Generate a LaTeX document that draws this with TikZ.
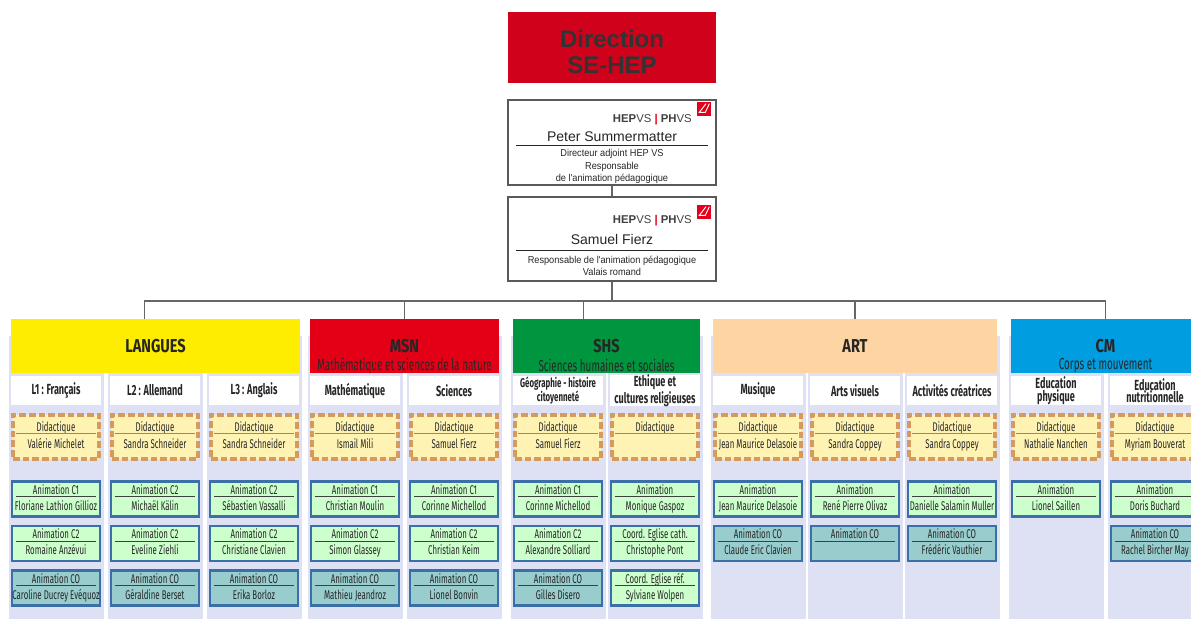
\documentclass[tikz,border=0pt]{standalone}
\usepackage{fontspec}
\setmainfont{Liberation Sans}
\newfontfamily\condfont[FakeStretch=0.62]{Fira Sans}
\newfontfamily\titrefont[FakeStretch=0.78]{Fira Sans}
\newfontfamily\rolefont[FakeStretch=0.92]{Liberation Sans}
\usepackage{tikz}
\definecolor{direction}{HTML}{D0021B}
\definecolor{logored}{HTML}{E2001A}
\definecolor{langues}{HTML}{FFED00}
\definecolor{msn}{HTML}{E30016}
\definecolor{shs}{HTML}{00963F}
\definecolor{art}{HTML}{FDD4A2}
\definecolor{cm}{HTML}{009EE0}
\definecolor{lavande}{HTML}{DEE0F4}
\definecolor{didacfond}{HTML}{FFF3B3}
\definecolor{didacbord}{HTML}{D69A5C}
\definecolor{orangefil}{HTML}{F26A2A}
\definecolor{animvert}{HTML}{CCFFCC}
\definecolor{animbleu}{HTML}{99CCCC}
\definecolor{animbord}{HTML}{3A6FA8}
\newcommand{\fiche}[3][black!75]{\makebox[60pt]{#2\strut}\llap{\textcolor{#1}{\rule[-2.2pt]{60pt}{0.6pt}}}\\#3\strut}
\tikzset{
	direction/.style={fill=direction, minimum width=156pt, minimum height=53.25pt, inner sep=0pt},
	direction texte/.style={text=black!80, align=center, inner sep=0pt,
			font=\bfseries\fontsize{18}{20}\selectfont},
	responsable/.style={draw=black!65, line width=0.9pt, fill=white, inner sep=0pt,
			minimum width=156pt, minimum height=#1},
	sigle/.style={font=\fontsize{8.5}{9}\selectfont, text=black!75, inner sep=0pt, anchor=base east},
	marque/.style={fill=logored, minimum size=11pt, inner sep=0pt,
			path picture={
					\draw[white, line width=0.7pt]
					([xshift=1.5pt,yshift=3pt]path picture bounding box.south west) -- ++(5pt,0pt)
					-- ([xshift=-1.5pt,yshift=-1.5pt]path picture bounding box.north east);
					\draw[white, line width=0.7pt]
					([xshift=2pt,yshift=3pt]path picture bounding box.south west)
					-- ([xshift=-4pt,yshift=-1.5pt]path picture bounding box.north east);
				}},
	nom/.style={font=\fontsize{10.5}{12}\selectfont, text=black!85, inner sep=0pt},
	fonction/.style={font=\rolefont\fontsize{7.5}{9.4}\selectfont, align=center, inner sep=0pt, text=black!85},
	filet/.style={draw=black!85, line width=0.75pt},
	lien/.style={draw=black!60, line width=1pt},
	domaine/.style={fill=#1, minimum height=40.5pt, inner sep=0pt, text=black!85,
			font=\titrefont\bfseries\fontsize{14}{14}\selectfont},
	sous titre/.style={font=\condfont\fontsize{12}{12}\selectfont, text=black!85, inner sep=0pt},
	fond/.style={fill=lavande},
	matiere/.style={fill=white, minimum width=67.5pt, minimum height=21.75pt, inner sep=0pt,
			align=center, text=black!85},
	didactique/.style={draw=didacbord, fill=didacfond, line width=3pt, dash pattern=on 5pt off 2.25pt,
			minimum width=64.5pt, minimum height=33pt, inner sep=0pt, align=center, text=black!85,
			font=\condfont\fontsize{9.5}{13}\selectfont},
	animation/.style={draw=animbord, line width=1.6pt, minimum width=65.9pt, minimum height=26.2pt,
			inner sep=0pt, align=center, text=black!85, font=\condfont\fontsize{9.5}{12}\selectfont}
}
\begin{document}
\begin{tikzpicture}[x=0.75pt,y=-0.75pt]
	\useasboundingbox (0,0) rectangle (1191,619);
	\clip (0,0) rectangle (1191,619);
	% direction et responsables
	\node[direction] (direction) at (612,47.5) {};
	\node[direction texte] (direction-texte) at (612,52) {Direction\\SE-HEP};
	\node[responsable=63.75pt] (peter) at (612,142.5) {};
	\node[sigle] (peter-sigle) at (692,122) {\textbf{HEP}VS \textcolor{logored}{\textbf{|}} \textbf{PH}VS};
	\node[marque] (peter-marque) at (704,109) {};
	\node[nom] (peter-nom) at (612,136.5) {Peter Summermatter};
	\draw[filet] (516,145.5) -- (708,145.5);
	\node[fonction] (peter-fonction) at (612,166.5)
	{Directeur adjoint HEP VS\\Responsable\\de l'animation pédagogique};
	\node[responsable=63pt] (samuel) at (612,239) {};
	\node[sigle] (samuel-sigle) at (692,223) {\textbf{HEP}VS \textcolor{logored}{\textbf{|}} \textbf{PH}VS};
	\node[marque] (samuel-marque) at (704,212) {};
	\node[nom] (samuel-nom) at (612,239.5) {Samuel Fierz};
	\draw[filet] (516,250.5) -- (708,250.5);
	\node[fonction] (samuel-fonction) at (612,266)
	{Responsable de l'animation pédagogique\\Valais romand};
	% colonnes
	\foreach \c/\x/\fs/\titre in {l1/56/11/L1 : Français, l2/155/11/L2 : Allemand, l3/254/11/L3 : Anglais,
			m1/355/11/Mathématique, m2/454/11/Sciences,
			s1/558/9.5/{Géographie - histoire\\citoyenneté},
			s2/655/11/{Ethique et\\cultures religieuses},
			a1/758/11/Musique, a2/855/11/Arts visuels, a3/952/11/Activités créatrices,
			c1/1056/11/{Education\\physique}, c2/1155/11/{Education\\nutritionnelle}}
		{
			\fill[fond] (\x-47.5,336) rectangle (\x+47.5,619);
			\node[matiere, font=\condfont\bfseries\fontsize{\fs}{9.5}\selectfont] (\c) at (\x,390.5) {\titre};
		}
	% domaines
	\node[domaine=langues, minimum width=216.75pt] (langues) at (155.5,346) {LANGUES};
	\node[domaine=msn, minimum width=141.75pt] (msn) at (404.5,346) {MSN};
	\node[sous titre] (msn-titre) at (404.5,365.5) {Mathématique et sciences de la nature};
	\node[domaine=shs, minimum width=140.25pt] (shs) at (606.5,346) {SHS};
	\node[sous titre] (shs-titre) at (606.5,365.5) {Sciences humaines et sociales};
	\node[domaine=art, minimum width=213pt] (art) at (855,346) {ART};
	\node[domaine=cm, minimum width=141.75pt] (cm) at (1105.5,346) {CM};
	\node[sous titre] (cm-titre) at (1105.5,365.5) {Corps et mouvement};
	% liens
	\coordinate (carrefour) at (612,301);
	\draw[lien] (peter.south) -- (samuel.north);
	\draw[lien] (samuel.south) -- (carrefour);
	\draw[lien] (carrefour) -| ([xshift=-8.25pt]langues.north);
	\draw[lien] (carrefour) -| (msn.north);
	\draw[lien] (carrefour) -| ([xshift=-17.25pt]shs.north);
	\draw[lien] (carrefour) -| (art.north);
	\draw[lien] (carrefour) -| (cm.north);
	% didactique
	\foreach \c/\x/\qui in {l1/56/Valérie Michelet, l2/155/Sandra Schneider, l3/254/Sandra Schneider,
			m1/355/Ismail Mili, m2/454/Samuel Fierz, s1/558/Samuel Fierz, s2/655/{},
			a1/758/Jean Maurice Delasoie, a2/855/Sandra Coppey, a3/952/Sandra Coppey,
			c1/1056/Nathalie Nanchen, c2/1155/Myriam Bouverat}
	\node[didactique] (\c-did) at (\x,436.5) {\fiche[orangefil]{Didactique}{\qui}};
	% animation
	\foreach \c/\x/\r/\f/\role/\qui in {
			l1/56/1/animvert/Animation C1/Floriane Lathion Gillioz,
			l1/56/2/animvert/Animation C2/Romaine Anzévui,
			l1/56/3/animbleu/Animation CO/Caroline Ducrey Evéquoz,
			l2/155/1/animvert/Animation C2/Michaël Kälin,
			l2/155/2/animvert/Animation C2/Eveline Ziehli,
			l2/155/3/animbleu/Animation CO/Géraldine Berset,
			l3/254/1/animvert/Animation C2/Sébastien Vassalli,
			l3/254/2/animvert/Animation C2/Christiane Clavien,
			l3/254/3/animbleu/Animation CO/Erika Borloz,
			m1/355/1/animvert/Animation C1/Christian Moulin,
			m1/355/2/animvert/Animation C2/Simon Glassey,
			m1/355/3/animbleu/Animation CO/Mathieu Jeandroz,
			m2/454/1/animvert/Animation C1/Corinne Michellod,
			m2/454/2/animvert/Animation C2/Christian Keim,
			m2/454/3/animbleu/Animation CO/Lionel Bonvin,
			s1/558/1/animvert/Animation C1/Corinne Michellod,
			s1/558/2/animvert/Animation C2/Alexandre Solliard,
			s1/558/3/animbleu/Animation CO/Gilles Disero,
			s2/655/1/animvert/Animation/Monique Gaspoz,
			s2/655/2/animvert/Coord. Eglise cath./Christophe Pont,
			s2/655/3/animvert/Coord. Eglise réf./Sylviane Wolpen,
			a1/758/1/animvert/Animation/Jean Maurice Delasoie,
			a1/758/2/animbleu/Animation CO/Claude Eric Clavien,
			a2/855/1/animvert/Animation/René Pierre Olivaz,
			a2/855/2/animbleu/Animation CO/{},
			a3/952/1/animvert/Animation/Danielle Salamin Muller,
			a3/952/2/animbleu/Animation CO/Frédéric Vauthier,
			c1/1056/1/animvert/Animation/Lionel Saillen,
			c2/1155/1/animvert/Animation/Doris Buchard,
			c2/1155/2/animbleu/Animation CO/Rachel Bircher May}
	\node[animation, fill=\f] (\c-a\r) at (\x,{499+44.5*(\r-1)}) {\fiche{\role}{\qui}};
\end{tikzpicture}
\end{document}
